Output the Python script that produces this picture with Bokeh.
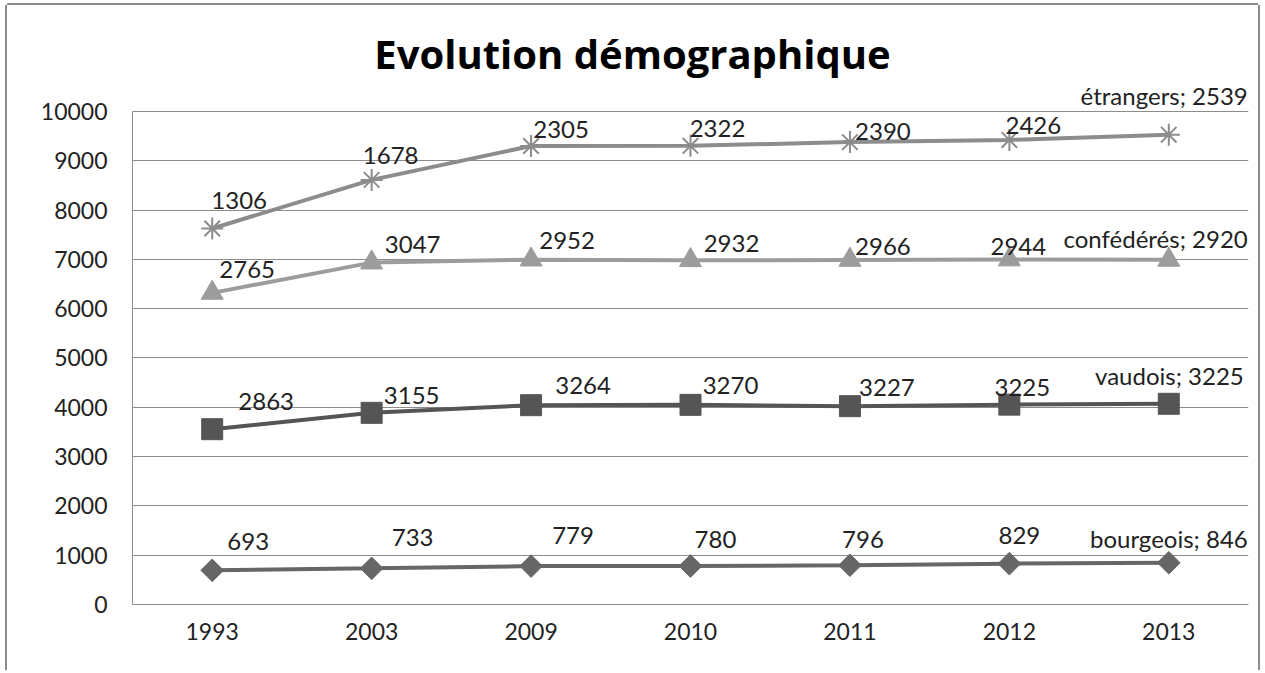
import numpy as np
from bokeh.plotting import figure
from bokeh.models import ColumnDataSource, LabelSet, Label, FactorRange, Range1d, FixedTicker
from bokeh.core.properties import value
from bokeh.embed import file_html
from bokeh.resources import INLINE

# ---- data ----
years = ["1993", "2003", "2009", "2010", "2011", "2012", "2013"]
series_names = ["bourgeois", "vaudois", "confédérés", "étrangers"]
bourgeois = [693, 733, 779, 780, 796, 829, 846]
vaudois = [2863, 3155, 3264, 3270, 3227, 3225, 3225]
confederes = [2765, 3047, 2952, 2932, 2966, 2944, 2920]
etrangers = [1306, 1678, 2305, 2322, 2390, 2426, 2539]
y_ticks = [0, 1000, 2000, 3000, 4000, 5000, 6000, 7000, 8000, 9000, 10000]
title_text = "Evolution démographique"

# ---- styles ----
FONT = "Lato"
TXT = "#222222"
colors = ["#666666", "#555555", "#9c9c9c", "#8c8c8c"]
markers = ["square", "square", "triangle", "asterisk"]
msizes = [16, 21, 22, 22]
mangles = [np.pi / 4, 0, 0, 0]
# label offsets in screen pixels (right, up); last entry = right-aligned end label
LABEL_DX = [[36, 41, 42, 25, 13, 10, 79],
            [54, 40, 52, 40, 37, 13, 75],
            [35, 41, 36, 41, 33, 9, 79],
            [27, 19, 30, 27, 33, 24, 79]]
LABEL_DY = [[29, 31, 31, 27, 26, 28, 24],
            [28, 17, 20, 19, 19, 17, 28],
            [23, 18, 19, 17, 13, 13, 21],
            [28, 24, 17, 17, 11, 14, 39]]

values = [bourgeois, vaudois, confederes, etrangers]
stacked = np.cumsum(np.array(values, dtype=float), axis=0)

p = figure(x_range=FactorRange(*years), y_range=Range1d(0, 12150),
           width=1251, height=665, output_backend="svg", toolbar_location=None,
           min_border_left=125, min_border_right=10, min_border_top=0, min_border_bottom=66,
           background_fill_color="white", border_fill_color="white")
p.styles = {"margin-left": "7px", "margin-top": "5px",
            "box-shadow": "-2px 0 0 0 #8c8c8c, 2px 0 0 0 #8c8c8c, 0 -2px 0 0 #8c8c8c"}
p.outline_line_color = None
p.xgrid.visible = False
p.ygrid.grid_line_color = "#8c8c8c"
p.ygrid.grid_line_width = 1
p.yaxis.ticker = FixedTicker(ticks=y_ticks)
p.yaxis.bounds = (0, 10000)
for ax in (p.xaxis[0], p.yaxis[0]):
    ax.axis_line_color = "#8c8c8c"
    ax.axis_line_width = 1
    ax.major_tick_in = 0
    ax.major_tick_out = 0
    ax.minor_tick_in = 0
    ax.minor_tick_out = 0
    ax.major_label_text_font = FONT
    ax.major_label_text_font_size = "23px"
    ax.major_label_text_color = TXT
p.yaxis.major_label_standoff = 25
p.xaxis.major_label_standoff = 18

for i, name in enumerate(series_names):
    ys = stacked[i]
    raw = values[i]
    src = ColumnDataSource(dict(x=years, y=ys))
    p.line("x", "y", source=src, line_width=4, line_color=colors[i])
    if markers[i] == "asterisk":
        p.scatter("x", "y", source=src, marker="asterisk", size=msizes[i],
                  line_color=colors[i], line_width=2)
    else:
        p.scatter("x", "y", source=src, marker=markers[i], size=msizes[i], angle=mangles[i],
                  fill_color=colors[i], line_color=colors[i])
    mid = ColumnDataSource(dict(x=years[:-1], y=ys[:-1], t=[str(v) for v in raw[:-1]],
                                dx=LABEL_DX[i][:-1], dy=LABEL_DY[i][:-1]))
    p.add_layout(LabelSet(x="x", y="y", text="t", source=mid, x_offset="dx", y_offset="dy",
                          text_align="center", text_baseline="middle",
                          text_font=value(FONT), text_font_size="24px", text_color=TXT))
    end = ColumnDataSource(dict(x=years[-1:], y=ys[-1:], t=[f"{name}; {raw[-1]}"],
                                dx=LABEL_DX[i][-1:], dy=LABEL_DY[i][-1:]))
    p.add_layout(LabelSet(x="x", y="y", text="t", source=end, x_offset="dx", y_offset="dy",
                          text_align="right", text_baseline="middle",
                          text_font=value(FONT), text_font_size="24px", text_color=TXT))

p.add_layout(Label(x=3.136, y=11170, text=title_text, text_align="center",
                   text_baseline="middle", text_font="Open Sans", text_font_style="bold",
                   text_font_size="40px", text_color="#000000"))

open("out.html", "w").write(file_html(p, INLINE))
